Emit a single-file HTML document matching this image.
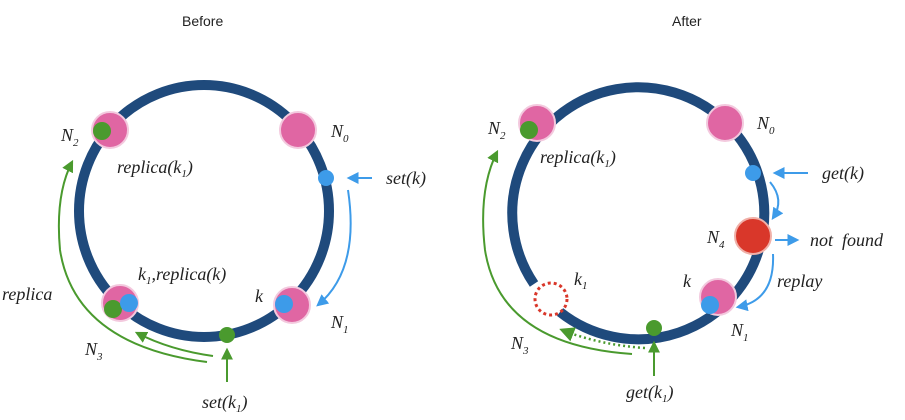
<!DOCTYPE html>
<html><head><meta charset="utf-8"><style>
html,body{margin:0;padding:0;background:#fff;}
svg{display:block;}
.t{font-family:"Liberation Serif",serif;font-style:italic;font-size:18px;fill:#222;}
.s{font-size:11px;}
.h{font-family:"Liberation Sans",sans-serif;font-size:14px;fill:#222;}
</style></head><body>
<svg width="905" height="420" viewBox="0 0 905 420">
<defs>
<marker id="ab" viewBox="0 0 10 10" refX="8" refY="5" markerWidth="6" markerHeight="6" orient="auto"><path d="M0,0 L10,5 L0,10 z" fill="#3d9be9"/></marker>
<marker id="ag" viewBox="0 0 10 10" refX="8" refY="5" markerWidth="6" markerHeight="6" orient="auto"><path d="M0,0 L10,5 L0,10 z" fill="#4a9a2e"/></marker>
</defs>
<text class="h" x="182" y="26">Before</text>
<text class="h" x="672" y="26">After</text>

<g>
<ellipse cx="204" cy="211" rx="125" ry="126" fill="none" stroke="#1f4a7c" stroke-width="10"/>
<circle cx="110" cy="130" r="18" fill="#e066a3" stroke="#f3c9de" stroke-width="2"/>
<circle cx="102" cy="131" r="9" fill="#4a9a2e"/>
<circle cx="298" cy="130" r="18" fill="#e066a3" stroke="#f3c9de" stroke-width="2"/>
<circle cx="292" cy="305" r="18" fill="#e066a3" stroke="#f3c9de" stroke-width="2"/>
<circle cx="284" cy="304" r="9" fill="#3d9be9"/>
<circle cx="120" cy="303" r="18" fill="#e066a3" stroke="#f3c9de" stroke-width="2"/>
<circle cx="113" cy="309" r="9" fill="#4a9a2e"/>
<circle cx="129" cy="303" r="9" fill="#3d9be9"/>
<circle cx="326" cy="178" r="8" fill="#3d9be9"/>
<circle cx="227" cy="335" r="8" fill="#4a9a2e"/>
<line x1="372" y1="178" x2="349" y2="178" stroke="#3d9be9" stroke-width="2" marker-end="url(#ab)"/>
<path d="M348,190 Q360,270 318,305" fill="none" stroke="#3d9be9" stroke-width="2" marker-end="url(#ab)"/>
<line x1="227" y1="382" x2="227" y2="350" stroke="#4a9a2e" stroke-width="2" marker-end="url(#ag)"/>
<path d="M213,356 Q170,350 137,333" fill="none" stroke="#4a9a2e" stroke-width="2" marker-end="url(#ag)"/>
<path d="M207,362 Q75,345 60,250 Q55,195 72,162" fill="none" stroke="#4a9a2e" stroke-width="2" marker-end="url(#ag)"/>
<text class="t" x="61" y="141">N<tspan class="s" dy="5">2</tspan></text>
<text class="t" x="331" y="137">N<tspan class="s" dy="5">0</tspan></text>
<text class="t" x="117" y="173">replica(k<tspan class="s" dy="4">1</tspan><tspan dy="-4">)</tspan></text>
<text class="t" x="386" y="184">set(k)</text>
<text class="t" x="138" y="280">k<tspan class="s" dy="4">1</tspan><tspan dy="-4">,replica(k)</tspan></text>
<text class="t" x="2" y="300">replica</text>
<text class="t" x="255" y="302">k</text>
<text class="t" x="331" y="328">N<tspan class="s" dy="5">1</tspan></text>
<text class="t" x="85" y="355">N<tspan class="s" dy="5">3</tspan></text>
<text class="t" x="202" y="408">set(k<tspan class="s" dy="4">1</tspan><tspan dy="-4">)</tspan></text>
</g>

<g>
<path d="M534,284 A126,126 0 1 1 560,312" fill="none" stroke="#1f4a7c" stroke-width="10"/>
<circle cx="551" cy="299" r="16" fill="none" stroke="#d9372a" stroke-width="3" stroke-dasharray="3,3"/>
<circle cx="537" cy="123" r="18" fill="#e066a3" stroke="#f3c9de" stroke-width="2"/>
<circle cx="529" cy="130" r="9" fill="#4a9a2e"/>
<circle cx="725" cy="123" r="18" fill="#e066a3" stroke="#f3c9de" stroke-width="2"/>
<circle cx="753" cy="236" r="18" fill="#d9372a" stroke="#f0b0a8" stroke-width="2"/>
<circle cx="718" cy="297" r="18" fill="#e066a3" stroke="#f3c9de" stroke-width="2"/>
<circle cx="710" cy="305" r="9" fill="#3d9be9"/>
<circle cx="753" cy="173" r="8" fill="#3d9be9"/>
<circle cx="654" cy="328" r="8" fill="#4a9a2e"/>
<line x1="808" y1="173" x2="775" y2="173" stroke="#3d9be9" stroke-width="2" marker-end="url(#ab)"/>
<path d="M770,182 Q785,200 773,218" fill="none" stroke="#3d9be9" stroke-width="2" marker-end="url(#ab)"/>
<line x1="775" y1="240" x2="797" y2="240" stroke="#3d9be9" stroke-width="2" marker-end="url(#ab)"/>
<path d="M773,254 Q775,300 738,307" fill="none" stroke="#3d9be9" stroke-width="2" marker-end="url(#ab)"/>
<line x1="654" y1="376" x2="654" y2="343" stroke="#4a9a2e" stroke-width="2" marker-end="url(#ag)"/>
<path d="M645,348 Q600,345 562,330" fill="none" stroke="#4a9a2e" stroke-width="2.5" stroke-dasharray="2,3" marker-end="url(#ag)"/>
<path d="M632,354 Q500,345 485,250 Q478,190 497,152" fill="none" stroke="#4a9a2e" stroke-width="2" marker-end="url(#ag)"/>
<text class="t" x="488" y="134">N<tspan class="s" dy="5">2</tspan></text>
<text class="t" x="757" y="129">N<tspan class="s" dy="5">0</tspan></text>
<text class="t" x="540" y="163">replica(k<tspan class="s" dy="4">1</tspan><tspan dy="-4">)</tspan></text>
<text class="t" x="822" y="179">get(k)</text>
<text class="t" x="707" y="243">N<tspan class="s" dy="5">4</tspan></text>
<text class="t" x="810" y="246">not&#160;&#160;found</text>
<text class="t" x="574" y="285">k<tspan class="s" dy="4">1</tspan></text>
<text class="t" x="683" y="287">k</text>
<text class="t" x="777" y="287">replay</text>
<text class="t" x="731" y="336">N<tspan class="s" dy="5">1</tspan></text>
<text class="t" x="511" y="349">N<tspan class="s" dy="5">3</tspan></text>
<text class="t" x="626" y="398">get(k<tspan class="s" dy="4">1</tspan><tspan dy="-4">)</tspan></text>
</g>
</svg>
</body></html>
